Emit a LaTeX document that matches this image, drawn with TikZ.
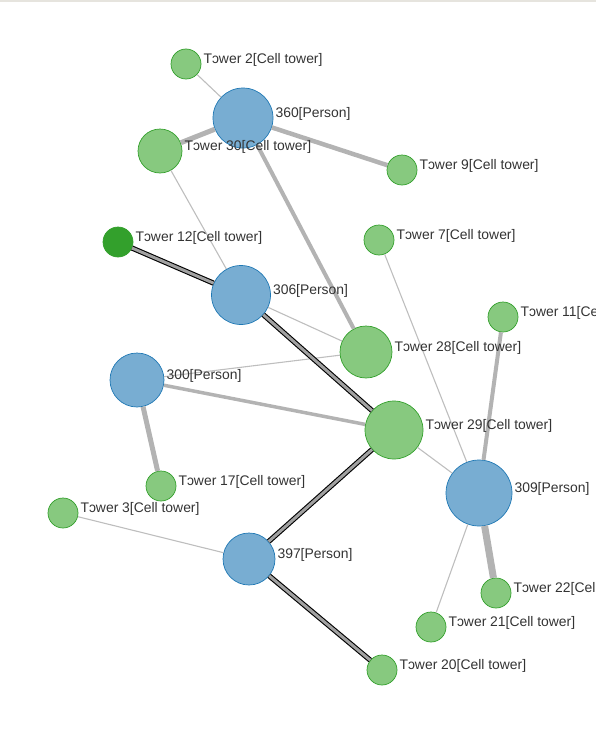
\documentclass[tikz,border=0pt]{standalone}
\usepackage{fontspec}
\setmainfont{Liberation Sans}
\definecolor{person}{HTML}{78ADD2}
\definecolor{personline}{HTML}{1F78B4}
\definecolor{tower}{HTML}{87C97F}
\definecolor{towerline}{HTML}{33A02C}
\definecolor{hub}{HTML}{33A02C}
\definecolor{link}{HTML}{B3B3B3}
\definecolor{labeltext}{HTML}{333333}
\definecolor{frameline}{HTML}{E6E4DE}

\begin{document}
\begin{tikzpicture}[
    x=1pt, y=-1pt,
    person/.style={circle, fill=person, draw=personline, line width=0.7pt, inner sep=0pt},
    tower/.style={circle, fill=tower, draw=towerline, line width=0.7pt, inner sep=0pt},
    lbl/.style={anchor=west, inner sep=1pt, text=labeltext,
                font=\fontsize{13.9}{15}\selectfont},
    weak/.style={draw=link!85, line width=1.1pt},
    heavy/.style={draw=link, line width=#1},
    strong/.style={draw=black, line width=1.1pt, double=link!90!black, double distance=3pt},
]

\useasboundingbox (0,0) rectangle (596,744);
\clip (0,0) rectangle (596,744);
\draw[frameline, line width=1.5pt] (0,0.75) -- (596,0.75);

% persons
\foreach \n/\x/\y/\d in {p360/243/118/60, p306/241/295/59, p300/137/380/54,
                         p309/479/493/66, p397/249/559/52} {
    \node[person, minimum size=\d pt] (\n) at (\x,\y) {};
}

% cell towers
\foreach \n/\x/\y/\d in {t2/186/64/30, t30/160/151/44, t9/402/170/30,
                         t7/379/240/30, t11/503/317/30, t28/366/352/52,
                         t29/394/430/58, t17/161/486/30, t3/63/513/30,
                         t22/496/593/30, t21/431/627/30, t20/382/670/30} {
    \node[tower, minimum size=\d pt] (\n) at (\x,\y) {};
}
\node[tower, fill=hub, minimum size=30pt] (t12) at (118,242) {};

% links
\foreach \a/\b in {t2/p360, t30/p306, p306/t28, p300/t28, t7/p309,
                   t29/p309, t3/p397, p309/t21} {
    \draw[weak] (\a) -- (\b);
}
\foreach \a/\b/\w in {p360/t30/5, p360/t9/4.5, p360/t28/4, p300/t29/3.5,
                      p300/t17/5, t11/p309/4, p309/t22/7} {
    \draw[heavy=\w pt] (\a) -- (\b);
}
\foreach \a/\b in {t12/p306, p306/t29, t29/p397, p397/t20} {
    \draw[strong] (\a) -- (\b);
}

% labels
\foreach \n/\t in {p360/{360[Person]}, p306/{306[Person]}, p300/{300[Person]},
                   p309/{309[Person]}, p397/{397[Person]},
                   t2/{Tɔwer 2[Cell tower]}, t30/{Tɔwer 30[Cell tower]},
                   t9/{Tɔwer 9[Cell tower]}, t12/{Tɔwer 12[Cell tower]},
                   t7/{Tɔwer 7[Cell tower]}, t11/{Tɔwer 11[Cell tower]},
                   t28/{Tɔwer 28[Cell tower]}, t29/{Tɔwer 29[Cell tower]},
                   t17/{Tɔwer 17[Cell tower]}, t3/{Tɔwer 3[Cell tower]},
                   t22/{Tɔwer 22[Cell tower]}, t21/{Tɔwer 21[Cell tower]},
                   t20/{Tɔwer 20[Cell tower]}} {
    \node[lbl] (\n-lbl) at ([xshift=1pt, yshift=4pt]\n.east) {\t};
}

\end{tikzpicture}
\end{document}
